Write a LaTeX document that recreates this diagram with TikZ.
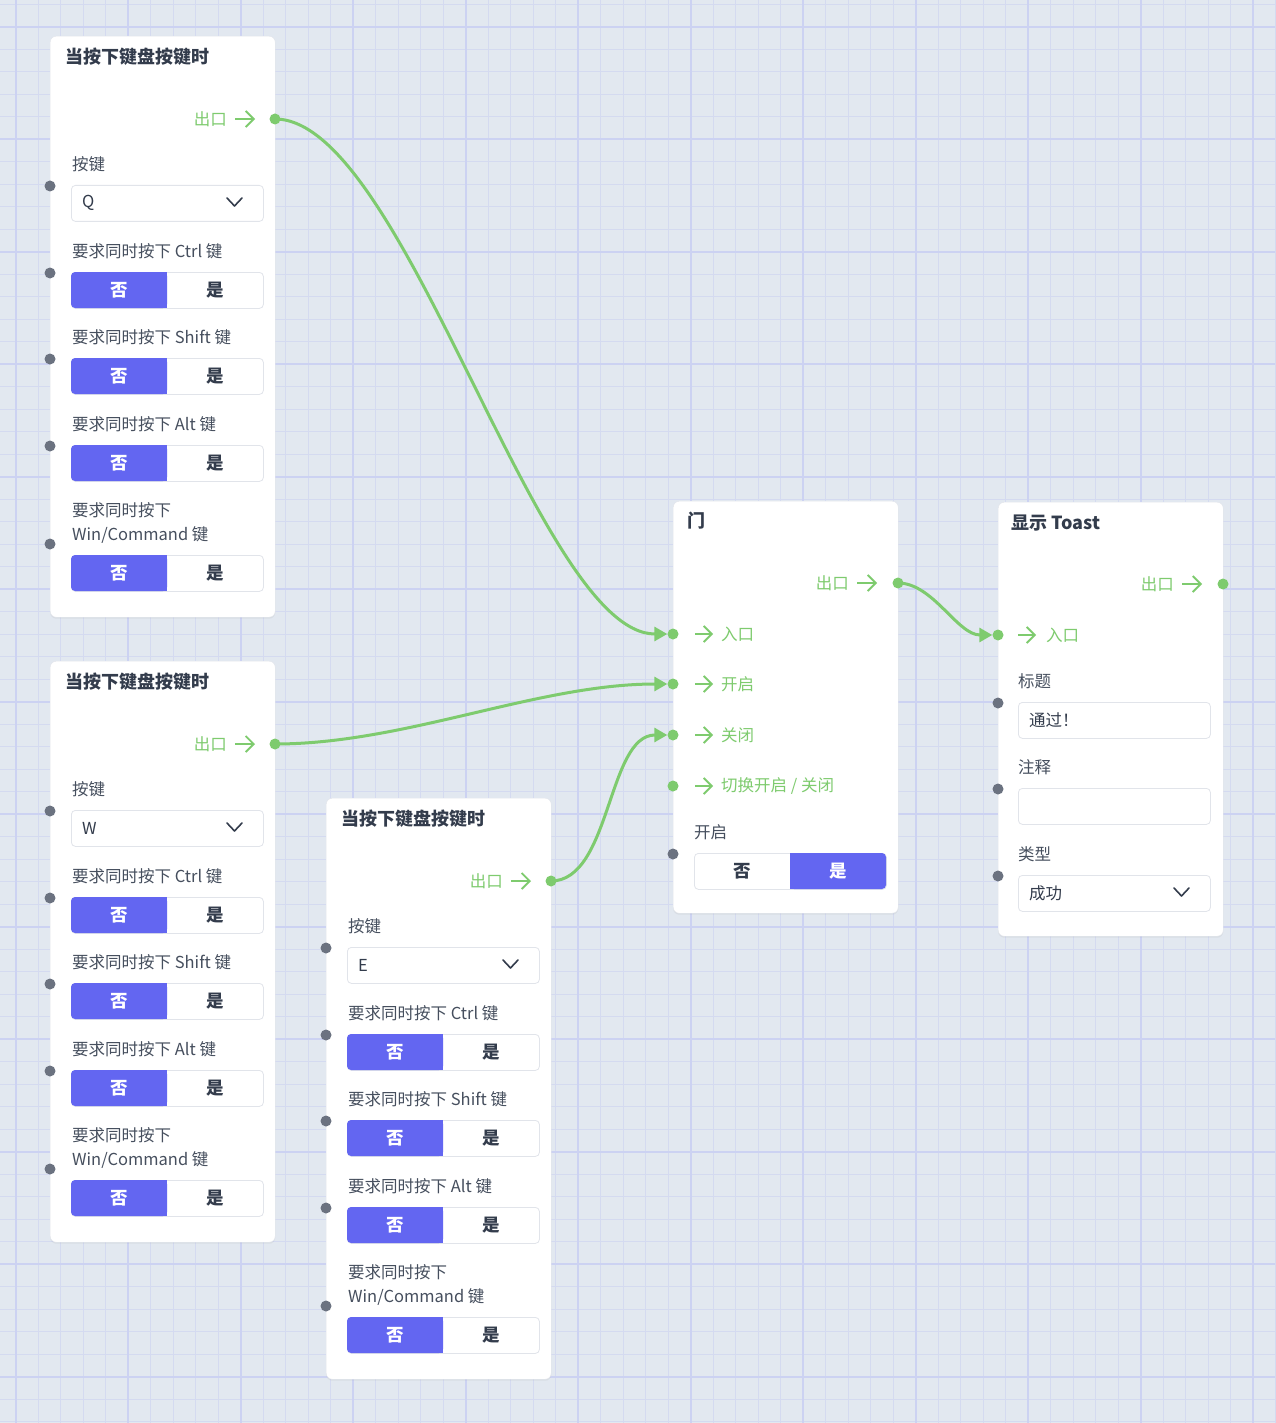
\documentclass[tikz,border=0pt]{standalone}
\usepackage{fontspec}
\setmainfont{Noto Sans CJK SC}
\usetikzlibrary{arrows.meta,shadows}

\definecolor{canvas}{RGB}{226,232,240}
\definecolor{gridminor}{RGB}{212,218,240}
\definecolor{gridmajor}{RGB}{204,210,242}
\definecolor{ink}{RGB}{51,60,76}
\definecolor{muted}{RGB}{70,79,94}
\definecolor{accent}{RGB}{99,102,241}
\definecolor{flow}{RGB}{126,203,110}
\definecolor{portgray}{RGB}{107,114,128}
\definecolor{rim}{RGB}{225,228,234}

\begin{document}
\begin{tikzpicture}[x=1pt, y=-1pt,
    minorline/.style={gridminor, line width=1pt},                % canvas grid
    majorline/.style={gridmajor, line width=2pt},
    card/.style={draw=rim, fill=white, rounded corners=6pt, anchor=north west,
                 minimum width=225pt, inner sep=0pt,
                 drop shadow={shadow xshift=0pt, shadow yshift=-1.5pt, opacity=0.10}},
    head/.style={anchor=west, inner sep=0pt, text=ink, font=\fontsize{18}{20}\selectfont\bfseries},
    lbl/.style={anchor=west, inner sep=0pt, text=muted, font=\fontsize{16.5}{20}\selectfont},
    flowlbl/.style={inner sep=0pt, text=flow, font=\fontsize{16.5}{20}\selectfont},
    btn/.style={inner sep=0pt, text=ink, font=\fontsize{17.5}{20}\selectfont\bfseries},
    port/.style={circle, fill=portgray, minimum size=11pt, inner sep=0pt},
    flowport/.style={port, fill=flow},
    go/.style={flow, line width=1.8pt, -{Straight Barb[length=8pt,width=16pt]}},   % the little arrow icon
    wire/.style={flow, line width=3pt, -{Triangle[length=13pt,width=14pt]}},       % connectors
    field/.style={draw=rim, fill=white, rounded corners=4pt, line width=0.8pt,
                  anchor=north west, minimum width=192pt, minimum height=36pt, inner sep=0pt},
    pics/noswitch/.style={code={
        \node[field] (-box) at (0,0) {};
        \fill[accent, rounded corners=4pt] (0,0) rectangle (96,36);
        \fill[accent] (90,0) rectangle (96,36);
        \node[btn, text=white] (-no) at (48,18) {否};
        \node[btn] (-yes) at (144,18) {是};
    }},
    pics/yesswitch/.style={code={
        \node[field] (-box) at (0,0) {};
        \fill[accent, rounded corners=4pt] (96,0) rectangle (192,36);
        \fill[accent] (96,0) rectangle (102,36);
        \node[btn] (-no) at (48,18) {否};
        \node[btn, text=white] (-yes) at (144,18) {是};
    }},
    pics/dropdown/.style={code={
        \node[field] (-box) at (0,0) {};
        \node[lbl, text=ink] (-val) at (11,18) {#1};
        \draw[ink, line width=1.6pt, line cap=round, line join=round] (156,13) -- (163.5,21) -- (171,13);
    }},
    pics/textfield/.style={code={
        \node[field] (-box) at (0,0) {};
        \node[lbl, text=ink] (-val) at (11,18) {#1};
    }}]
  \useasboundingbox (0,0) rectangle (1275,1423);

  % background grid
  \fill[canvas] (0,0) rectangle (1275,1423);
  \foreach \i in {0,...,57} \draw[minorline] ({-6.7+22.5*\i},0) -- ++(0,1423);
  \foreach \i in {0,...,63} \draw[minorline] (0,{4.2+22.5*\i}) -- ++(1275,0);
  \foreach \i in {0,...,11} \draw[majorline] ({15.8+112.5*\i},0) -- ++(0,1423);
  \foreach \i in {0,...,12} \draw[majorline] (0,{26.7+112.5*\i}) -- ++(1275,0);

  % three key-press cards
  \foreach \n/\x/\y/\k in {ka/50/36/Q, kb/50/661/W, kc/326/798/E}{
    \begin{scope}[shift={(\x,\y)}]
      \node[card, minimum height=581pt] (\n) at (0,0) {};
      \node[head] (\n-title) at (15,21) {当按下键盘按键时};
      \node[flowlbl, anchor=east] (\n-outlbl) at (177,83) {出口};
      \draw[go] (185,83) -- (205,83);
      \node[flowport] (\n-out) at (225,83) {};
      \node[lbl] (\n-lblkey) at (22,128) {按键};
      \node[port] (\n-pkey) at (0,150) {};
      \pic (\n-key) at (21,149) {dropdown=\k};
      \foreach \m/\t in {Ctrl/215, Shift/301, Alt/388}{
        \node[lbl] (\n-lbl\m) at (22,\t) {要求同时按下 \m\ 键};
        \node[port] (\n-p\m) at (0,\t+22) {};
        \pic (\n-\m) at (21,\t+21) {noswitch};
      }
      \node[lbl] (\n-lblWin) at (22,474) {要求同时按下};
      \node[lbl] (\n-lblWinb) at (22,499) {Win/Command 键};
      \node[port] (\n-pWin) at (0,508) {};
      \pic (\n-Win) at (21,519) {noswitch};
    \end{scope}
  }

  % gate card
  \begin{scope}[shift={(673,501)}]
    \node[card, minimum height=412pt] (gate) at (0,0) {};
    \node[head] (gate-title) at (14,20) {门};
    \node[flowlbl, anchor=east] (gate-outlbl) at (176,82) {出口};
    \draw[go] (184,82) -- (204,82);
    \node[flowport] (gate-out) at (225,82) {};
    \foreach \m/\t/\s in {in/133/入口, open/183/开启, close/234/关闭, toggle/285/{切换开启 / 关闭}}{
      \node[flowport] (gate-\m) at (0,\t) {};
      \draw[go] (22,\t) -- (40,\t);
      \node[flowlbl, anchor=west] (gate-lbl\m) at (48,\t) {\s};
    }
    \node[lbl] (gate-lblstate) at (21,331) {开启};
    \node[port] (gate-pstate) at (0,353) {};
    \pic (gate-state) at (21,352) {yesswitch};
  \end{scope}

  % toast card
  \begin{scope}[shift={(998,502)}]
    \node[card, minimum height=434pt] (toast) at (0,0) {};
    \node[head] (toast-title) at (13,21) {显示 Toast};
    \node[flowlbl, anchor=east] (toast-outlbl) at (176,82) {出口};
    \draw[go] (184,82) -- (204,82);
    \node[flowport] (toast-out) at (225,82) {};
    \node[flowport] (toast-in) at (0,133) {};
    \draw[go] (20,133) -- (38,133);
    \node[flowlbl, anchor=west] (toast-lblin) at (48,133) {入口};
    \node[lbl] (toast-lblhead) at (20,179) {标题};
    \node[port] (toast-phead) at (0,201) {};
    \pic (toast-head) at (20,200) {textfield=通过！};
    \node[lbl] (toast-lblnote) at (20,265) {注释};
    \node[port] (toast-pnote) at (0,287) {};
    \pic (toast-note) at (20,286) {textfield=};
    \node[lbl] (toast-lblkind) at (20,352) {类型};
    \node[port] (toast-pkind) at (0,374) {};
    \pic (toast-kind) at (20,373) {dropdown=成功};
  \end{scope}

  % connectors
  \draw[wire] (ka-out.center) .. controls +(130,0) and +(-130,0) .. (gate-in.west);
  \draw[wire] (kb-out.center) .. controls +(130,0) and +(-130,0) .. (gate-open.west);
  \draw[wire] (kc-out.center) .. controls +(60,0) and +(-60,0) .. (gate-close.west);
  \draw[wire] (gate-out.center) .. controls +(35,0) and +(-35,0) .. (toast-in.west);
\end{tikzpicture}
\end{document}
